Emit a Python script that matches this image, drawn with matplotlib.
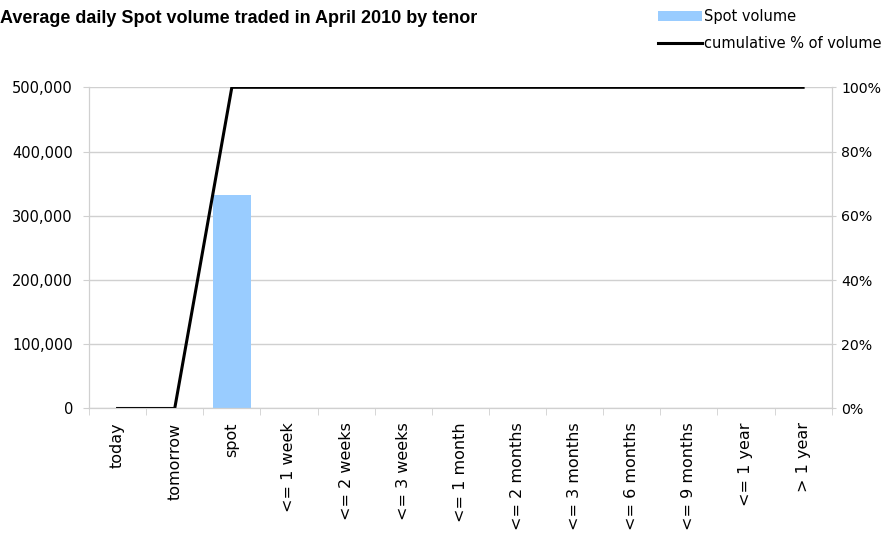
import matplotlib.pyplot as plt
import numpy as np
from matplotlib.ticker import FuncFormatter, PercentFormatter

plt.rcParams['font.family'] = ['DejaVu Sans']

tenors = ["today", "tomorrow", "spot", "<= 1 week", "<= 2 weeks", "<= 3 weeks",
          "<= 1 month", "<= 2 months", "<= 3 months", "<= 6 months",
          "<= 9 months", "<= 1 year", "> 1 year"]
spot_volume = [0, 0, 332000, 0, 0, 0, 0, 0, 0, 0, 0, 0, 0]
cumulative_pct = [0, 0, 100, 100, 100, 100, 100, 100, 100, 100, 100, 100, 100]

grid_col = "#d0d0d0"
x = np.arange(len(tenors))

fig = plt.figure(figsize=(8.84, 5.33), dpi=100)
ax = fig.add_axes([0.1007, 0.2336, 0.8401, 0.6026])
ax2 = ax.twinx()

bars = ax.bar(x, spot_volume, width=0.66, color="#99ccff", zorder=2, label="Spot volume")
line, = ax2.plot(x, cumulative_pct, color="black", lw=2.2, label="cumulative % of volume")

ax.set_xlim(-0.5, len(tenors) - 0.5)
ax.set_ylim(0, 500000)
ax2.set_ylim(0, 100)
ax.set_yticks(np.arange(0, 500001, 100000))
ax2.set_yticks(np.arange(0, 101, 20))
ax.yaxis.set_major_formatter(FuncFormatter(lambda v, p: f"{int(v):,}"))
ax2.yaxis.set_major_formatter(PercentFormatter(decimals=0))
ax.grid(axis="y", color=grid_col, lw=1, zorder=0)
ax.set_axisbelow(True)

ax.set_xticks(x)
ax.set_xticklabels(tenors, rotation=90, fontsize=11.5)
ax.set_xticks(np.arange(-0.5, len(tenors), 1), minor=True)
ax.tick_params(axis="x", which="major", length=0, pad=10)
ax.tick_params(axis="x", which="minor", length=5, color=grid_col)
ax.tick_params(axis="y", length=4.5, color=grid_col, labelsize=10.5, pad=7)
ax2.tick_params(axis="y", length=3, color=grid_col, labelsize=10.2, pad=4)

for a in (ax, ax2):
    a.spines["top"].set_visible(False)
    for s in ("left", "right", "bottom"):
        a.spines[s].set_color(grid_col)

fig.text(0.0, 0.966, "Average daily Spot volume traded in April 2010 by tenor",
         family="Liberation Sans", fontsize=13, fontweight="bold", va="center", ha="left")

fig.legend(handles=[bars, line], loc="upper left", bbox_to_anchor=(0.735, 1.0),
           frameon=False, fontsize=10.5, handlelength=2.95, handletextpad=0.15,
           labelspacing=0.85, borderaxespad=0.2)

fig.savefig("out.png", dpi=100)
